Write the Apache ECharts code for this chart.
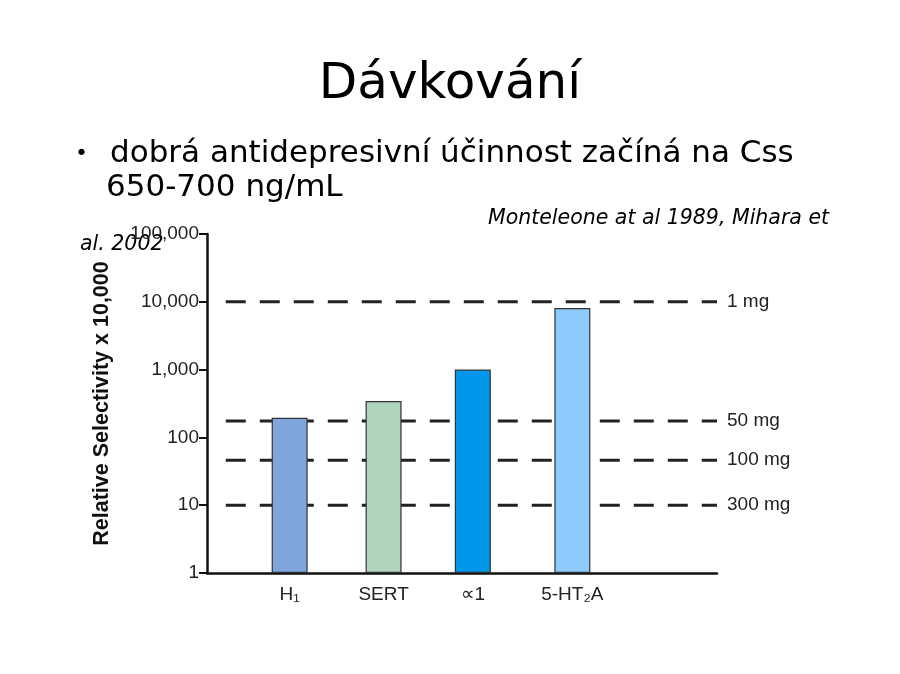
<!DOCTYPE html><html><head><meta charset="utf-8"><script src="https://cdn.jsdelivr.net/npm/echarts@6/dist/echarts.min.js"></script></head><body style="margin:0"><div id="c" style="width:900px;height:674px"></div><script>
const categories=['H₁','SERT','∝1','5-HT₂A'];
const catPos=[0.88,1.88,2.83,3.89];
const values=[195,345,1000,8100];
const colors=['#7fa6dc','#b1d4bd','#0096ea','#8ecafc'];
const doseValues=[10000,175,46,10];
const doseLabels=['1 mg','50 mg','100 mg','300 mg'];
const nf='"Liberation Sans Narrow","Liberation Sans",sans-serif';
const ch=echarts.init(document.getElementById('c'));
const series=[{type:'bar',z:5,barWidth:36,data:values.map((v,i)=>({value:[catPos[i],v],itemStyle:{color:colors[i],borderColor:'#333',borderWidth:1.2}}))}];
doseValues.forEach((v,i)=>series.push({type:'line',z:2,symbol:'none',silent:true,data:[[0.2,v],[5.43,v]],lineStyle:{color:'#222',width:3,type:[20,14]},endLabel:{show:true,formatter:doseLabels[i],fontFamily:nf,fontSize:19,color:'#222',distance:10}}));
ch.setOption({animation:false,
grid:{left:207,right:183,top:234,bottom:101},
xAxis:{type:'value',min:0,max:5.43,splitLine:{show:false},axisLine:{lineStyle:{color:'#111',width:2.5}},axisTick:{show:false},
 axisLabel:{customValues:catPos,formatter:v=>categories[catPos.indexOf(v)]||'',fontFamily:nf,fontSize:19,color:'#222',margin:12}},
yAxis:{type:'log',min:1,max:100000,logBase:10,splitLine:{show:false},axisLine:{show:true,lineStyle:{color:'#111',width:2.5}},axisTick:{show:true,length:8,lineStyle:{color:'#111',width:2}},
 axisLabel:{fontFamily:nf,fontSize:19,color:'#222',formatter:v=>v.toLocaleString('en-US')},
 name:'Relative Selectivity x 10,000',nameLocation:'middle',nameGap:94,nameTextStyle:{fontFamily:'"Liberation Sans",sans-serif',fontWeight:'bold',fontSize:21.5,color:'#111'}},
series:series,
graphic:[
{type:'text',left:'center',top:60,style:{text:'Dávkování',font:'50px "DejaVu Sans"',fill:'#000'}},
{type:'text',left:75,top:143,style:{text:'•',font:'22px "DejaVu Sans"',fill:'#000'}},
{type:'text',left:110,top:138,style:{text:'dobrá antidepresivní účinnost začíná na Css',font:'31px "DejaVu Sans"',fill:'#000'}},
{type:'text',left:106,top:172,style:{text:'650-700 ng/mL',font:'31px "DejaVu Sans"',fill:'#000'}},
{type:'text',left:488,top:209,style:{text:'Monteleone at al 1989, Mihara et',font:'italic 20.5px "DejaVu Sans"',fill:'#000'}},
{type:'text',left:80,top:235,style:{text:'al. 2002',font:'italic 20.5px "DejaVu Sans"',fill:'#000'}}
]});
</script></body></html>
